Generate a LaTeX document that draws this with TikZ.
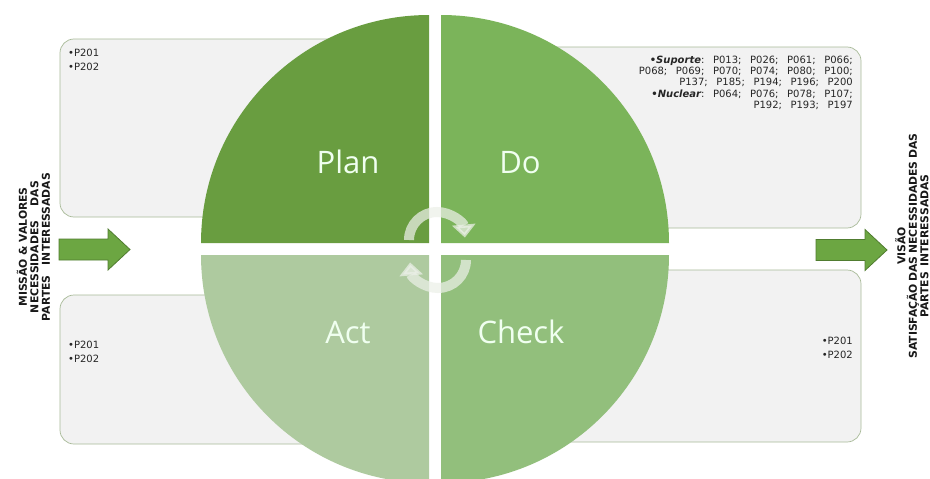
\documentclass[tikz,border=0pt]{standalone}
\usepackage{fontspec}
\setmainfont{DejaVu Sans}
\newfontfamily\pdcafont{Open Sans}
\usetikzlibrary{arrows.meta}
\definecolor{plangreen}{RGB}{105,157,64}
\definecolor{dogreen}{RGB}{123,180,90}
\definecolor{checkgreen}{RGB}{146,191,124}
\definecolor{actgreen}{RGB}{174,202,159}
\definecolor{boxfill}{RGB}{242,242,242}
\definecolor{boxline}{RGB}{168,186,152}
\definecolor{arrowgreen}{RGB}{108,166,66}
\definecolor{arrowline}{RGB}{80,124,48}
\definecolor{cyclegrey}{RGB}{236,240,232}
\tikzset{
  infobox/.style = {fill=boxfill, draw=boxline, line width=0.7pt, rounded corners=14pt},
  phase/.style = {font=\pdcafont\fontsize{31}{31}\selectfont, text=white!94!green, anchor=base, inner sep=0pt},
  bigarrow/.style = {fill=arrowgreen, draw=arrowline, line width=0.8pt},
  cyclearrow/.style = {draw=cyclegrey, opacity=0.72, line width=10pt, -{Triangle[width=23pt,length=13pt]}},
  reftext/.style = {font=\fontsize{10}{11.3}\selectfont, inner sep=0pt, text=black!85},
  codetext/.style = {font=\fontsize{10}{14}\selectfont, inner sep=0pt, text=black!85, align=left},
  sidetext/.style = {font=\bfseries\fontsize{10.8}{11.5}\selectfont, rotate=90, align=center, inner sep=0pt, text=black!90}
}
\newcommand{\itemgap}{\hspace{8.6pt}}

\begin{document}
\begin{tikzpicture}[x=1pt,y=-1pt]
  \path[use as bounding box, fill=white] (0,0) rectangle (930,479);
  \draw[infobox] (60,39) rectangle (415,217);
  \draw[infobox] (455,47) rectangle (861,228);
  \draw[infobox] (60,295) rectangle (415,444);
  \draw[infobox] (455,270) rectangle (861,442);
  \foreach \cx/\cy/\a/\col in {429/243/180/plangreen, 441/243/270/dogreen, 441/255/0/checkgreen, 429/255/90/actgreen}
    \fill[\col] (\cx,\cy) -- ++(\a:228) arc[start angle=\a, delta angle=90, radius=228] -- cycle;
  \node[phase] (plan) at (348,173) {Plan};
  \node[phase] (do) at (520,173) {Do};
  \node[phase] (check) at (521,343) {Check};
  \node[phase] (act) at (348,343) {Act};
  \draw[cyclearrow] (409,240) arc[start angle=180, end angle=355, radius=28];
  \draw[cyclearrow] (466,260) arc[start angle=0, end angle=175, radius=28];
  \node[codetext, anchor=north west] (plantext) at (68,48.7) {•P201\\•P202};
  \node[codetext, anchor=north west] (acttext) at (68,340.7) {•P201\\•P202};
  \node[codetext, anchor=north east] (checktext) at (853,336.7) {•P201\\•P202};
  \node[reftext, anchor=north east, align=right] (dotext) at (853,55.7) {%
    {\bfseries\itshape •Suporte}:\itemgap P013;\itemgap P026;\itemgap P061;\itemgap P066;\\
    P068;\itemgap P069;\itemgap P070;\itemgap P074;\itemgap P080;\itemgap P100;\\
    P137;\itemgap P185;\itemgap P194;\itemgap P196;\itemgap P200\\
    {\bfseries\itshape •Nuclear}:\itemgap P064;\itemgap P076;\itemgap P078;\itemgap P107;\\
    P192;\itemgap P193;\itemgap P197};
  \foreach \ax/\ay in {59/249.5, 816/250}
    \draw[bigarrow] (\ax,\ay) ++(0,-10.5) -- ++(49,0) -- ++(0,-10) -- ++(22,20.5)
      -- ++(-22,20.5) -- ++(0,-10) -- ++(-49,0) -- cycle;
  \node[sidetext] (mission) at (33.5,247) {MISSÃO \& VALORES\\
    \makebox[132pt][s]{NECESSIDADES DAS}\\\makebox[148pt][s]{PARTES INTERESSADAS}};
  \node[sidetext] (vision) at (912,246) {VISÃO\\
    \makebox[225pt][s]{SATISFAÇÃO DAS NECESSIDADES DAS}\\\makebox[143pt][s]{PARTES INTERESSADAS}};
\end{tikzpicture}
\end{document}
